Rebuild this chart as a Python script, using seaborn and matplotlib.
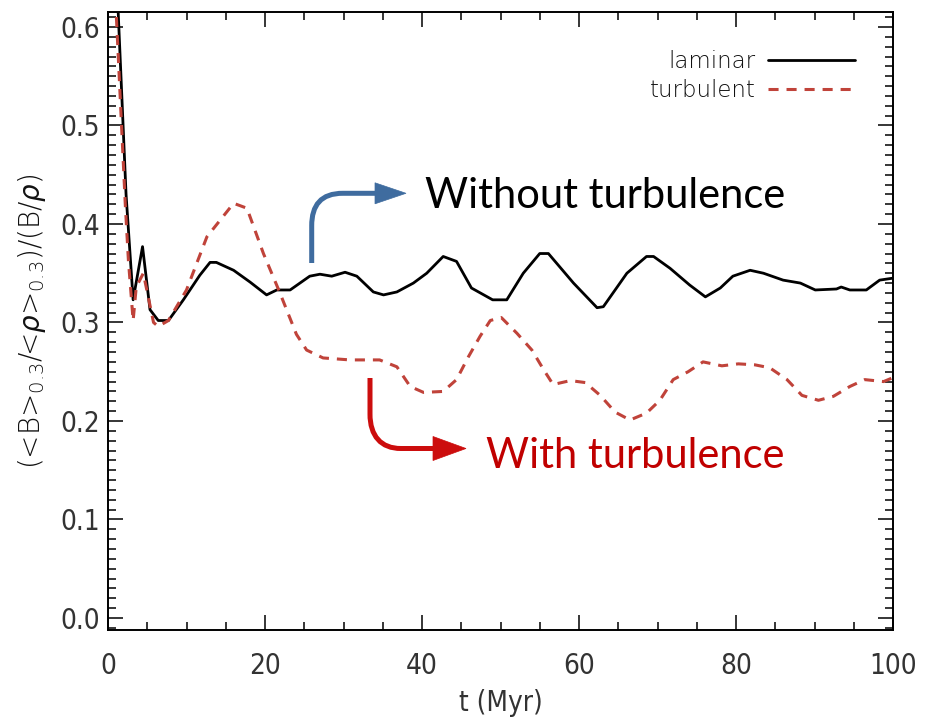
import numpy as np
import pandas as pd
import seaborn as sns
import matplotlib
matplotlib.use("Agg")
import matplotlib.pyplot as plt
from matplotlib.path import Path
from matplotlib.patches import PathPatch, Polygon
from matplotlib.ticker import MultipleLocator

# ---------------- data ----------------
t_laminar = [1.0, 1.7, 2.3, 3.2, 4.4, 5.35, 6.4, 7.7, 9.6, 11.7, 13.0, 13.8, 16.0,
             18.1, 20.2, 21.5, 23.2, 25.7, 27.0, 28.5, 30.2, 31.7, 33.8, 35.1, 36.8,
             38.9, 40.6, 42.7, 44.4, 46.3, 49.0, 50.8, 52.9, 55.0, 56.1, 59.3, 62.3,
             63.1, 66.1, 68.6, 69.5, 71.6, 74.1, 76.1, 78.0, 79.6, 81.8, 83.5, 86.0,
             88.2, 90.1, 92.8, 93.4, 94.5, 96.6, 98.3, 100.0]
v_laminar = [0.67, 0.541, 0.43, 0.323, 0.377, 0.313, 0.302, 0.302, 0.323, 0.348, 0.361,
             0.361, 0.353, 0.341, 0.328, 0.333, 0.333, 0.347, 0.349, 0.347, 0.351, 0.347,
             0.331, 0.328, 0.331, 0.340, 0.350, 0.367, 0.362, 0.335, 0.323, 0.323, 0.350,
             0.370, 0.370, 0.340, 0.315, 0.316, 0.350, 0.367, 0.367, 0.355, 0.338, 0.326,
             0.335, 0.347, 0.353, 0.350, 0.343, 0.340, 0.333, 0.334, 0.336, 0.333, 0.333,
             0.343, 0.345]

t_turbulent = [0.5, 1.1, 2.2, 2.6, 3.2, 3.6, 4.5, 5.8, 6.4, 7.7, 10.0, 12.6, 16.0, 17.7,
               19.8, 21.8, 24.0, 25.3, 27.4, 30.8, 34.6, 36.8, 38.5, 40.2, 42.7, 44.4,
               45.9, 47.4, 48.7, 50.1, 52.1, 54.0, 55.5, 56.7, 58.9, 60.8, 62.7, 64.6,
               66.5, 68.6, 70.3, 72.0, 73.9, 75.8, 78.2, 80.3, 82.4, 84.3, 86.5, 88.4,
               90.5, 92.4, 94.5, 96.4, 98.8, 100.0]
v_turbulent = [0.70, 0.605, 0.42, 0.363, 0.302, 0.336, 0.350, 0.300, 0.296, 0.302, 0.333,
               0.387, 0.421, 0.416, 0.370, 0.332, 0.288, 0.272, 0.264, 0.262, 0.262, 0.255,
               0.235, 0.229, 0.230, 0.242, 0.265, 0.286, 0.302, 0.305, 0.289, 0.272, 0.252,
               0.237, 0.241, 0.239, 0.226, 0.209, 0.201, 0.208, 0.221, 0.242, 0.250, 0.260,
               0.256, 0.258, 0.257, 0.254, 0.242, 0.226, 0.221, 0.225, 0.235, 0.242, 0.240,
               0.244]

x_ticks = [0, 20, 40, 60, 80, 100]
y_ticks = [0.0, 0.1, 0.2, 0.3, 0.4, 0.5, 0.6]
series_labels = ["laminar", "turbulent"]
x_label = "t (Myr)"
y_label = r"(<B>$_{0.3}$/<$\rho$>$_{0.3}$)/(B/$\rho$)"
note_without = "Without turbulence"
note_with = "With turbulence"

# ---------------- style ----------------
sns.set_style("ticks")
plt.rcParams["font.family"] = ["DejaVu Sans"]
plt.rcParams["font.weight"] = "light"
plt.rcParams["mathtext.fontset"] = "dejavusans"

W, H = 928, 724
fig = plt.figure(figsize=(W / 100, H / 100), dpi=100)
ax = fig.add_axes([108 / W, 1 - 630 / H, 785 / W, 618 / H])

black = "#000000"
red = "#c0433a"

sns.lineplot(x=t_laminar, y=v_laminar, ax=ax, color=black, lw=2.0,
             label=series_labels[0], sort=False)
sns.lineplot(x=t_turbulent, y=v_turbulent, ax=ax, color=red, lw=2.2,
             label=series_labels[1], sort=False)
ax.lines[-1].set_dashes((3.3, 2.6))

ax.set_xlim(0, 100)
ax.set_ylim(-0.0122, 0.6152)
ax.set_xticks(x_ticks)
ax.set_xticklabels([str(v) for v in x_ticks])
ax.set_yticks(y_ticks)
ax.set_yticklabels([f"{v:.1f}" for v in y_ticks])
ax.xaxis.set_minor_locator(MultipleLocator(5))
ax.yaxis.set_minor_locator(MultipleLocator(0.01))

tick_color = "#333333"
ax.tick_params(which="both", direction="in", top=True, right=True, color="black",
               width=1.1)
ax.tick_params(which="major", length=11)
ax.tick_params(which="minor", length=5.5)
ax.tick_params(axis="x", which="major", pad=16, labelcolor=tick_color)
ax.tick_params(axis="y", which="major", pad=6, labelcolor=tick_color)
for lab in ax.get_xticklabels() + ax.get_yticklabels():
    lab.set_fontsize(20)
    lab.set_fontstretch("condensed")
    lab.set_fontweight("light")
for s in ax.spines.values():
    s.set_linewidth(1.4)
    s.set_color("black")

ax.set_xlabel(x_label, fontsize=20, color=tick_color, va="top", fontweight="light",
              fontstretch="condensed")
ax.xaxis.set_label_coords(0.5, -0.095)
ax.set_ylabel(y_label, fontsize=20, color="#111111", fontweight="light")
ax.yaxis.set_label_coords(-0.076, 0.5)

leg = ax.legend(loc="upper right", bbox_to_anchor=(855 / W, 1 - 50 / H),
                bbox_transform=fig.transFigure, frameon=False, markerfirst=False,
                fontsize=16.5, handlelength=3.8, handletextpad=0.55, labelspacing=0.25,
                borderpad=0, borderaxespad=0)
for txt in leg.get_texts():
    txt.set_color("#111111")
    txt.set_fontweight("light")


# ---------------- annotations (figure pixel coordinates) ----------------
def fp(x, y):
    return (x / W, 1 - y / H)


def curved_arrow(p0, p1, c1, c2, p2, p3, tip, half, color, lw):
    verts = [fp(*p0), fp(*p1), fp(*c1), fp(*c2), fp(*p2), fp(*p3)]
    codes = [Path.MOVETO, Path.LINETO, Path.CURVE4, Path.CURVE4, Path.CURVE4, Path.LINETO]
    patch = PathPatch(Path(verts, codes), fill=False, edgecolor=color, lw=lw,
                      capstyle="butt", joinstyle="round", transform=fig.transFigure)
    fig.add_artist(patch)
    bx = p3[0] - 2
    head = Polygon([fp(bx, tip[1] - half), fp(*tip), fp(bx, tip[1] + half)],
                   closed=True, facecolor=color, edgecolor=color, lw=0.5,
                   transform=fig.transFigure)
    fig.add_artist(head)


blue = "#3f6c9f"
arrow_red = "#cc0d0d"
curved_arrow((311.7, 263), (311.7, 226), (311.7, 205), (321, 193.3), (343, 193.3),
             (377, 193.3), (406, 193.3), 10.5, blue, 3.6)
curved_arrow((370, 378), (370, 414), (370, 436), (381, 448.5), (401, 448.5),
             (435, 448.5), (466, 448.5), 12, arrow_red, 3.6)

fig.text(425 / W, 1 - 208 / H, note_without, fontsize=30, family="Lato",
         fontweight="normal", color="black", ha="left", va="baseline")
fig.text(486 / W, 1 - 468 / H, note_with, fontsize=30, family="Lato",
         fontweight="normal", color="#c00000", ha="left", va="baseline")

fig.savefig("out.png", dpi=100)
